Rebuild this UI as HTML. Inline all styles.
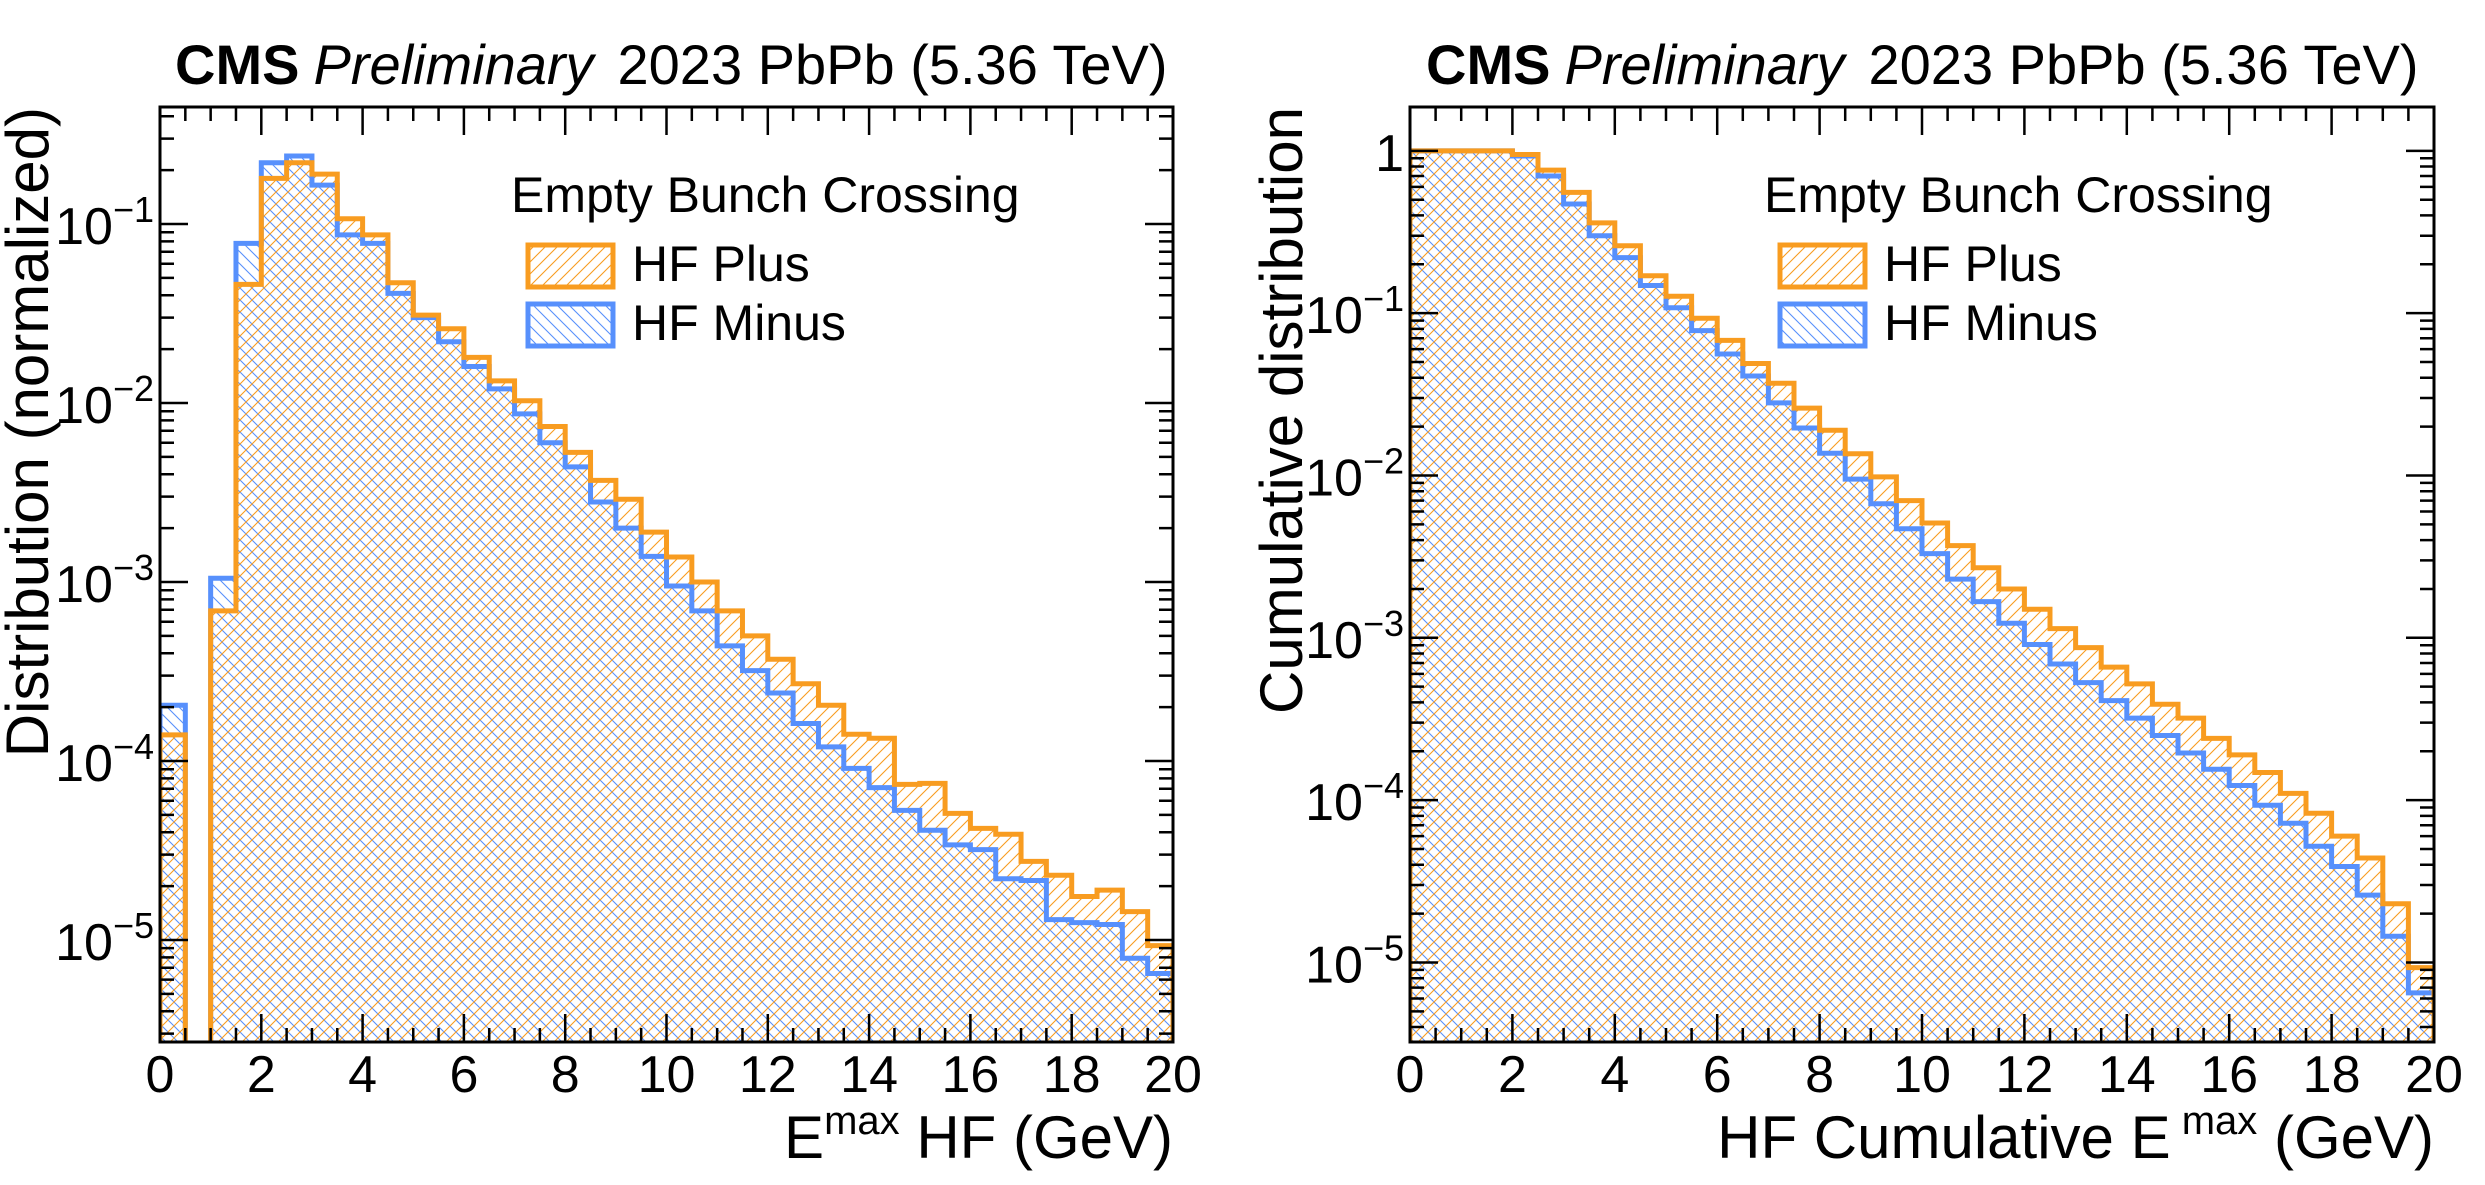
<!DOCTYPE html>
<html><head><meta charset="utf-8">
<style>
html,body{margin:0;padding:0;background:#fff;}
svg{display:block;font-family:"Liberation Sans",Arial,sans-serif;}
</style></head>
<body>
<svg id="chart" width="2485" height="1185" viewBox="0 0 2485 1185" xmlns="http://www.w3.org/2000/svg">
<defs>
<pattern id="hatchO" patternUnits="userSpaceOnUse" width="12" height="12">
<path d="M-1,1 L1,-1 M0,12 L12,0 M11,13 L13,11" stroke="#f89c20" stroke-width="1.1"/>
</pattern>
<pattern id="hatchB" patternUnits="userSpaceOnUse" width="12" height="12">
<path d="M-1,11 L1,13 M0,0 L12,12 M11,-1 L13,1" stroke="#5790fc" stroke-width="1.1"/>
</pattern>
<clipPath id="clipL"><rect x="160" y="107" width="1013" height="935"/></clipPath>
<clipPath id="clipR"><rect x="1410" y="107" width="1024" height="935"/></clipPath>
</defs>
<g id="root"></g>
</svg>
<script>
// ---- data ----
const binEdgesStart = 0, binWidth = 0.5, nBins = 40;
const leftPlus = [1.4e-4,1e-12,6.9e-4,0.046,0.18,0.22,0.19,0.107,0.087,0.047,0.031,0.026,0.018,0.0133,0.0103,0.0074,0.0053,0.0037,0.0029,0.0019,0.00138,0.0010,6.9e-4,5.0e-4,3.7e-4,2.7e-4,2.05e-4,1.41e-4,1.34e-4,7.4e-5,7.5e-5,5.1e-5,4.2e-5,3.9e-5,2.75e-5,2.3e-5,1.75e-5,1.9e-5,1.44e-5,9.3e-6];
const leftMinus = [2.05e-4,1e-12,1.05e-3,0.078,0.22,0.24,0.165,0.087,0.078,0.041,0.030,0.022,0.016,0.012,0.0087,0.0060,0.0044,0.0028,0.0020,0.00139,9.5e-4,6.9e-4,4.4e-4,3.2e-4,2.4e-4,1.62e-4,1.2e-4,9.1e-5,7.1e-5,5.3e-5,4.1e-5,3.4e-5,3.2e-5,2.2e-5,2.15e-5,1.3e-5,1.25e-5,1.22e-5,7.9e-6,6.5e-6];
const rightPlus = [1,1,1,1,0.95,0.76,0.555,0.36,0.26,0.17,0.127,0.093,0.068,0.049,0.037,0.026,0.019,0.0136,0.0098,0.0070,0.0051,0.0037,0.0027,0.0020,0.0015,0.00114,8.7e-4,6.6e-4,5.2e-4,3.9e-4,3.2e-4,2.4e-4,1.9e-4,1.48e-4,1.1e-4,8.3e-5,6.0e-5,4.4e-5,2.3e-5,9.3e-6];
const rightMinus = [1,1,1,1,0.93,0.70,0.47,0.30,0.22,0.148,0.108,0.078,0.056,0.041,0.028,0.0196,0.0137,0.0095,0.0067,0.0047,0.0033,0.0023,0.00167,0.00123,9.1e-4,6.9e-4,5.3e-4,4.1e-4,3.2e-4,2.5e-4,1.95e-4,1.55e-4,1.23e-4,9.3e-5,7.2e-5,5.2e-5,3.9e-5,2.6e-5,1.45e-5,6.5e-6];
const xTickLabels = ["0","2","4","6","8","10","12","14","16","18","20"];
const leftDecades = [-1,-2,-3,-4,-5];
const rightDecades = [0,-1,-2,-3,-4,-5];

const NS="http://www.w3.org/2000/svg";
const root=document.getElementById('root');
function mk(tag,attrs,parent){const e=document.createElementNS(NS,tag);for(const k in attrs)e.setAttribute(k,attrs[k]);(parent||root).appendChild(e);return e;}

function panel(cfg){
  const g=mk('g',{});
  
  
  const X0=cfg.x0,X1=cfg.x1,Y0=107,Y1=1042;
  const xs=v=>X0+(v-0)/20*(X1-X0);
  const ys=v=>{const l=Math.log10(Math.max(v,1e-12));return Y1-(l-cfg.lmin)/(cfg.lmax-cfg.lmin)*(Y1-Y0);};
  function histPath(vals,closed){
    let d='';
    for(let i=0;i<vals.length;i++){
      const xa=xs(binEdgesStart+i*binWidth),xb=xs(binEdgesStart+(i+1)*binWidth);
      let y=Math.min(ys(vals[i]),Y1+10);
      d+=(i===0?(closed?`M${xa},${Y1+10} L${xa},${y}`:`M${xa},${y}`):` L${xa},${y}`)+` L${xb},${y}`;
    }
    if(closed)d+=` L${xs(20)},${Y1+10} Z`;
    return d;
  }
  const cg=mk('g',{'clip-path':`url(#${cfg.clip})`},g);
  const fb=mk('path',{d:histPath(cfg.minus,true),fill:'url(#hatchB)'},cg);
  
  
  const fo=mk('path',{d:histPath(cfg.plus,true),fill:'url(#hatchO)'},cg);
  
  
  const lb=mk('path',{d:histPath(cfg.minus,true),fill:'none',stroke:'#5790fc','stroke-width':5},cg);
  
  
  const lo=mk('path',{d:histPath(cfg.plus,true),fill:'none',stroke:'#f89c20','stroke-width':5},cg);
  
  
  let td='';
  for(let v=0;v<=20.001;v+=0.5){
    const x=xs(v);const L=(Math.abs(v/2-Math.round(v/2))<1e-6)?28:14;
    td+=`M${x},${Y1} L${x},${Y1-L} M${x},${Y0} L${x},${Y0+L} `;
  }
  for(let d=Math.floor(cfg.lmin);d<=Math.ceil(cfg.lmax);d++){
    for(let m=1;m<10;m++){
      const l=d+Math.log10(m);if(l<cfg.lmin||l>cfg.lmax)continue;
      const y=ys(Math.pow(10,l));const L=m===1?28:14;
      td+=`M${X0},${y} L${X0+L},${y} M${X1},${y} L${X1-L},${y} `;
    }
  }
  const tk=mk('path',{d:td,stroke:'#000','stroke-width':2.5,fill:'none'},g);
  
  
  const fr=mk('rect',{x:X0,y:Y0,width:X1-X0,height:Y1-Y0,fill:'none',stroke:'#000','stroke-width':3},g);
  
  
  xTickLabels.forEach((t,i)=>{
    const e=mk('text',{x:xs(i*2),y:1092,'font-size':52,'text-anchor':'middle'},g);e.textContent=t;
    
    
  });
  cfg.decades.forEach(d=>{
    const y=ys(Math.pow(10,d));
    const e=mk('text',{x:X0-6,y:y+20,'font-size':52,'text-anchor':'end'},g);
    
    
    if(d===0){e.textContent='1';}
    else{
      const a=mk('tspan',{},e);a.textContent='10';
      const b=mk('tspan',{dy:-22,'font-size':36},e);b.textContent='\u2212'+(-d);
    }
  });
}

panel({name:'left-panel',x0:160,x1:1173,lmin:-5.57,lmax:-0.346,plus:leftPlus,minus:leftMinus,decades:leftDecades,clip:'clipL'});
panel({name:'right-panel',x0:1410,x1:2434,lmin:-5.49,lmax:0.27,plus:rightPlus,minus:rightMinus,decades:rightDecades,clip:'clipR'});
</script>
<script>
(function(){
const NS="http://www.w3.org/2000/svg";const svg=document.getElementById('chart');
function T(x,y,size,html,name,extra){const e=document.createElementNS(NS,'text');e.setAttribute('x',x);e.setAttribute('y',y);e.setAttribute('font-size',size);if(extra)for(const k in extra)e.setAttribute(k,extra[k]);e.innerHTML=html;


svg.appendChild(e);return e;}
function R(x,y,w,h,fill,stroke,name){const e=document.createElementNS(NS,'rect');e.setAttribute('x',x);e.setAttribute('y',y);e.setAttribute('width',w);e.setAttribute('height',h);e.setAttribute('fill',fill);e.setAttribute('stroke',stroke);e.setAttribute('stroke-width',5);


svg.appendChild(e);}
[[175,511,528,632,1173,'E<tspan dy="-24" font-size="40">max</tspan><tspan dy="24"> HF (GeV)</tspan>','Distribution (normalized)',48],
 [1426,1764,1780,1884,2434,'HF Cumulative E<tspan dy="-24" font-size="40"> max</tspan><tspan dy="24"> (GeV)</tspan>','Cumulative distribution',1302]].forEach(p=>{
  T(p[0],84,56,'<tspan font-weight="bold">CMS</tspan><tspan font-style="italic" dx="14">Preliminary</tspan><tspan dx="24">2023 PbPb (5.36 TeV)</tspan>','cms-title');
  T(p[1],212,50,'Empty Bunch Crossing','legend-header');
  R(p[2],245,85,42,'url(#hatchO)','#f89c20','legend-plus-swatch');
  T(p[3],281,50,'HF Plus','legend-plus-label');
  R(p[2],304,85,42,'url(#hatchB)','#5790fc','legend-minus-swatch');
  T(p[3],340,50,'HF Minus','legend-minus-label');
  T(p[4],1158,60,p[5],'x-axis-title',{'text-anchor':'end'});
  T(0,0,60,p[6],'y-axis-title',{'text-anchor':'end',transform:`translate(${p[7]},107) rotate(-90)`});
});
})();
</script>
</body></html>
